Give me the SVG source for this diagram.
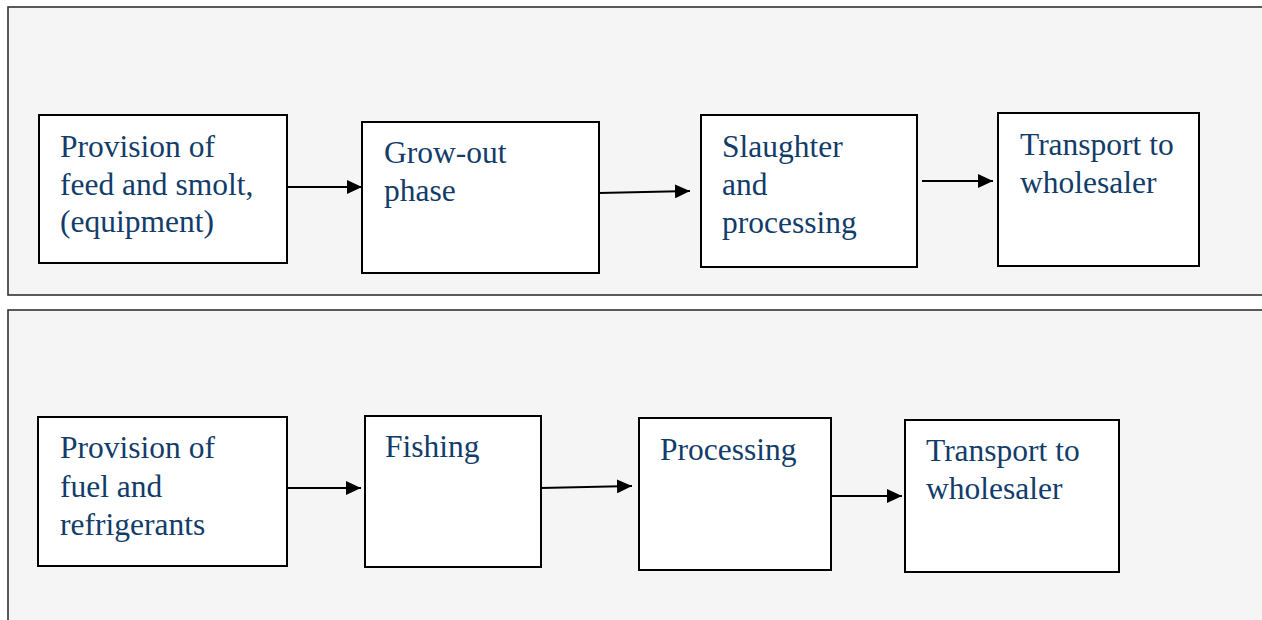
<svg xmlns="http://www.w3.org/2000/svg" width="1262" height="620" viewBox="0 0 1262 620">
  <defs>
    <marker id="arrowhead" markerWidth="15" markerHeight="14" refX="15" refY="7" orient="auto" markerUnits="userSpaceOnUse">
      <path d="M0,0 L15,7 L0,14 Z" fill="#000"/>
    </marker>
  </defs>
  <style>
    .panel { fill: #f5f5f5; stroke: #333; stroke-width: 1.6; }
    .box { fill: #fff; stroke: #000; stroke-width: 2; }
    .label { font-family: "Liberation Serif", "Times New Roman", serif; font-size: 31.5px; fill: #123c69; }
    .conn { stroke: #000; stroke-width: 2; fill: none; marker-end: url(#arrowhead); }
  </style>

  <rect width="1262" height="620" fill="#fff"/>

  <!-- Aquaculture chain -->
  <rect id="panel-top" class="panel" x="8" y="7" width="1270" height="288"/>
  <!-- Fisheries chain -->
  <rect id="panel-bottom" class="panel" x="8" y="310" width="1270" height="330"/>

  <g id="n-feed">
    <rect class="box" x="39" y="115" width="248" height="148"/>
    <text class="label" x="60" y="157">Provision of</text>
    <text class="label" x="60" y="195">feed and smolt,</text>
    <text class="label" x="60" y="232">(equipment)</text>
  </g>
  <g id="n-growout">
    <rect class="box" x="362" y="122" width="237" height="151"/>
    <text class="label" x="384" y="163">Grow-out</text>
    <text class="label" x="384" y="201">phase</text>
  </g>
  <g id="n-slaughter">
    <rect class="box" x="701" y="115" width="216" height="152"/>
    <text class="label" x="722" y="157">Slaughter</text>
    <text class="label" x="722" y="195">and</text>
    <text class="label" x="722" y="233">processing</text>
  </g>
  <g id="n-transport-1">
    <rect class="box" x="998" y="113" width="201" height="153"/>
    <text class="label" x="1020" y="155">Transport to</text>
    <text class="label" x="1020" y="193">wholesaler</text>
  </g>

  <g id="n-fuel">
    <rect class="box" x="38" y="417" width="249" height="149"/>
    <text class="label" x="60" y="458">Provision of</text>
    <text class="label" x="60" y="497">fuel and</text>
    <text class="label" x="60" y="535">refrigerants</text>
  </g>
  <g id="n-fishing">
    <rect class="box" x="365" y="416" width="176" height="151"/>
    <text class="label" x="385" y="457">Fishing</text>
  </g>
  <g id="n-processing">
    <rect class="box" x="639" y="418" width="192" height="152"/>
    <text class="label" x="660" y="460">Processing</text>
  </g>
  <g id="n-transport-2">
    <rect class="box" x="905" y="420" width="214" height="152"/>
    <text class="label" x="926" y="461">Transport to</text>
    <text class="label" x="926" y="499">wholesaler</text>
  </g>

  <g id="connectors">
    <line class="conn" x1="288" y1="187" x2="362" y2="187"/>
    <line class="conn" x1="599" y1="193" x2="690" y2="191"/>
    <line class="conn" x1="922" y1="181" x2="993" y2="181"/>
    <line class="conn" x1="287" y1="488" x2="361" y2="488"/>
    <line class="conn" x1="541" y1="488" x2="632" y2="486"/>
    <line class="conn" x1="831" y1="496" x2="902" y2="496"/>
  </g>
</svg>
